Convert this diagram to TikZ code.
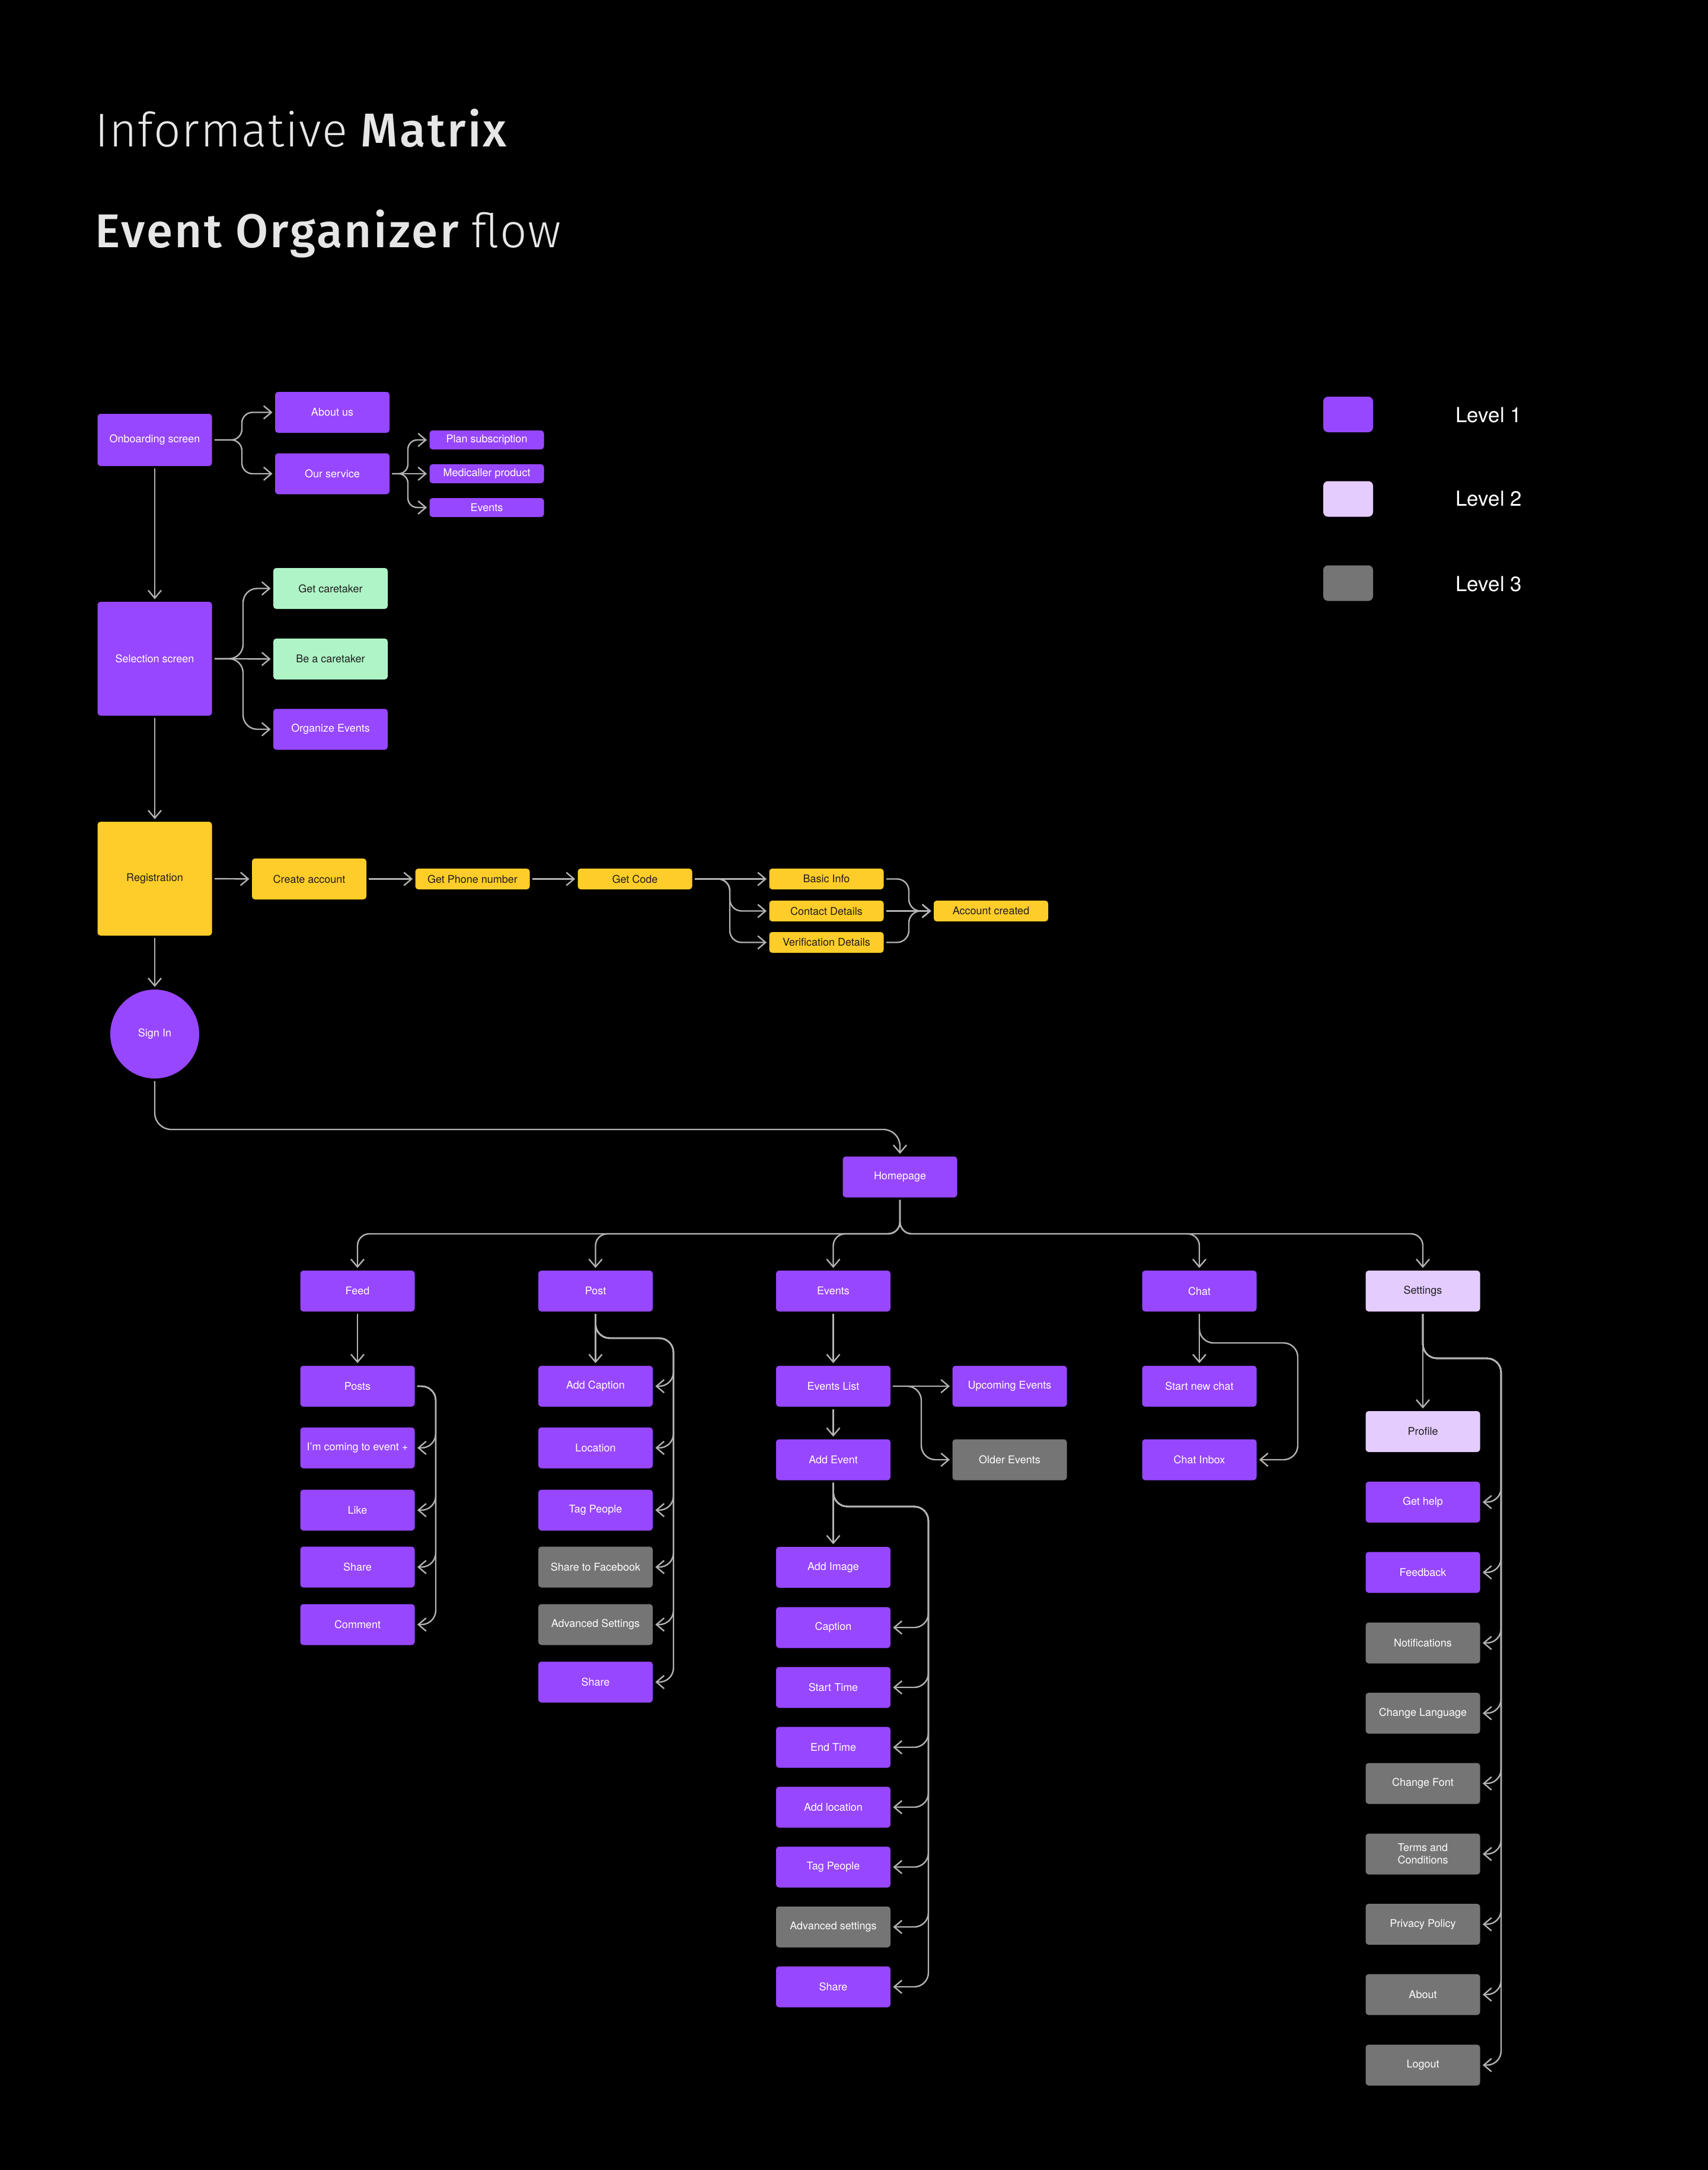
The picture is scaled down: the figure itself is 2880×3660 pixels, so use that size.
\documentclass[tikz,border=0pt]{standalone}
\usepackage{fontspec}
\setmainfont{TeX Gyre Heros}
\IfFontExistsTF{Fira Sans Light}{\newfontfamily\tlight{Fira Sans Light}[LetterSpace=2]}{\newfontfamily\tlight{Fira Sans}[LetterSpace=2]}
\IfFontExistsTF{Fira Sans Medium}{\newfontfamily\tbold{Fira Sans Medium}[LetterSpace=4]}{\newfontfamily\tbold{Fira Sans}[LetterSpace=4,FakeBold=1.2]}
\usetikzlibrary{arrows.meta,calc}
\definecolor{pur}{HTML}{9747FF}
\definecolor{lpur}{HTML}{E4CCFF}
\definecolor{grn}{HTML}{AFF4C6}
\definecolor{ylw}{HTML}{FFCD29}
\definecolor{gry}{HTML}{757575}
\definecolor{lin}{HTML}{B3B3B3}
\definecolor{dark}{HTML}{1E1E1E}
\definecolor{ttl}{HTML}{E6E6E6}
\tikzset{
  box/.style={rectangle, rounded corners=2.5pt, minimum width=96.5pt, minimum height=34.5pt,
    inner sep=0pt, font=\fontsize{9}{10.5}\selectfont, align=center},
  lone/.style={box, fill=pur, text=white},
  ltwo/.style={box, fill=lpur, text=dark},
  lthree/.style={box, fill=gry, text=white},
  gbox/.style={box, fill=grn, text=dark},
  ybox/.style={box, fill=ylw, text=dark},
  slim/.style={minimum height=16pt},
  slimy/.style={minimum height=17.5pt},
  arr/.style={draw=lin, line width=1.2pt, -{Straight Barb[length=6.5pt,width=11pt]},
    shorten <=2pt, shorten >=2pt, rounded corners=12pt},
  legtext/.style={anchor=base west, inner sep=0pt, text=white, font=\fontsize{17.5}{20}\selectfont},
  swatch/.style={rectangle, rounded corners=4pt, minimum width=42pt, minimum height=30pt, inner sep=0pt},
}
\begin{document}
\begin{tikzpicture}[x=0.5pt, y=-0.5pt]
\useasboundingbox (0,0) rectangle (2880,3660);
\fill[black] (-20,-20) rectangle (2900,3680);

% titles
\node[anchor=base west, inner sep=0pt, text=ttl, font=\fontsize{40}{46}\selectfont] (t1) at (160,248)
  {{\tlight Informative} {\tbold Matrix}};
\node[anchor=base west, inner sep=0pt, text=ttl, font=\fontsize{40}{46}\selectfont] (t2) at (160,417)
  {{\tbold Event Organizer} {\tlight flow}};

% legend
\node[swatch, fill=pur] (sw1) at (2274,699) {};
\node[swatch, fill=lpur] (sw2) at (2274,841.5) {};
\node[swatch, fill=gry] (sw3) at (2274,983.5) {};
\node[legtext] (lt1) at (2455,712) {Level 1};
\node[legtext] (lt2) at (2455,853) {Level 2};
\node[legtext] (lt3) at (2455,997) {Level 3};

% onboarding
\node[lone, minimum height=44pt] (onb) at (261,742) {Onboarding screen};
\node[lone] (about) at (560.5,695.5) {About us};
\node[lone] (serv) at (560.5,799) {Our service};
\node[lone, slim] (plan) at (821,742) {Plan subscription};
\node[lone, slim] (medi) at (821,799) {Medicaller product};
\node[lone, slim] (evs) at (821,856) {Events};
\coordinate (ob) at (408,0);
\coordinate (sb) at (688,0);
\draw[arr, rounded corners=9pt] (onb.east) -- (onb.east -| ob) -- (about.west -| ob) -- (about.west);
\draw[arr, rounded corners=9pt] (onb.east) -- (onb.east -| ob) -- (serv.west -| ob) -- (serv.west);
\draw[arr, rounded corners=8pt] (serv.east) -- (serv.east -| sb) -- (plan.west -| sb) -- (plan.west);
\draw[arr] (serv.east) -- (medi.west);
\draw[arr, rounded corners=8pt] (serv.east) -- (serv.east -| sb) -- (evs.west -| sb) -- (evs.west);

% selection
\node[lone, minimum height=96pt] (sel) at (261,1111) {Selection screen};
\node[gbox] (getc) at (557.5,992.5) {Get caretaker};
\node[gbox] (bec) at (557.5,1111.5) {Be a caretaker};
\node[lone] (org) at (557.5,1230) {Organize Events};
\coordinate (selb) at (410,0);
\draw[arr] (onb.south) -- (sel.north);
\draw[arr] (sel.east) -- (sel.east -| selb) -- (getc.west -| selb) -- (getc.west);
\draw[arr] (sel.east) -- (bec.west);
\draw[arr] (sel.east) -- (sel.east -| selb) -- (org.west -| selb) -- (org.west);

% registration
\node[ybox, minimum height=96pt] (reg) at (261,1482) {Registration};
\node[ybox] (create) at (521.5,1482.5) {Create account};
\node[ybox, slimy] (phone) at (797,1482.5) {Get Phone number};
\node[ybox, slimy] (code) at (1071,1482.5) {Get Code};
\node[ybox, slimy] (basic) at (1394,1482.5) {Basic Info};
\node[ybox, slimy] (contact) at (1394,1536.5) {Contact Details};
\node[ybox, slimy] (verif) at (1394,1589.5) {Verification Details};
\node[ybox, slimy] (acc) at (1671.5,1536.5) {Account created};
\coordinate (cb) at (1231,0);
\coordinate (ab) at (1533,0);
\draw[arr] (sel.south) -- (reg.north);
\draw[arr] (reg.east) -- (create.west);
\draw[arr] (create.east) -- (phone.west);
\draw[arr] (phone.east) -- (code.west);
\draw[arr] (code.east) -- (basic.west);
\draw[arr, rounded corners=10pt] (code.east) -- (code.east -| cb) -- (contact.west -| cb) -- (contact.west);
\draw[arr, rounded corners=10pt] (code.east) -- (code.east -| cb) -- (verif.west -| cb) -- (verif.west);
\draw[arr, rounded corners=10pt] (basic.east) -- (basic.east -| ab) -- (acc.west -| ab) -- (acc.west);
\draw[arr] (contact.east) -- (acc.west);
\draw[arr, rounded corners=10pt] (verif.east) -- (verif.east -| ab) -- (acc.west -| ab) -- (acc.west);

% sign in and homepage
\node[circle, fill=pur, text=white, minimum size=75pt, inner sep=0pt, font=\fontsize{9}{10.5}\selectfont] (sign) at (261,1744) {Sign In};
\node[lone] (hp) at (1518,1985) {Homepage};
\coordinate (sbus) at (0,1905);
\draw[arr] (reg.south) -- (sign.north);
\draw[arr, rounded corners=14pt] (sign.south) -- (sign.south |- sbus) -- (sbus -| hp.north) -- (hp.north);

\node[lone] (feed) at (603,2177.5) {Feed};
\node[lone] (post) at (1004.5,2177.5) {Post};
\node[lone] (events) at (1405.5,2177.5) {Events};
\node[lone] (chat) at (2023,2177.5) {Chat};
\node[ltwo] (settings) at (2400,2177.5) {Settings};
\coordinate (hbus) at (0,2081);
\foreach \n in {feed,post,events,chat,settings}
  \draw[arr, rounded corners=10pt] (hp.south) -- (hp.south |- hbus) -- (hbus -| \n.north) -- (\n.north);

% feed column
\node[lone] (posts) at (603,2338) {Posts};
\node[lone] (coming) at (603,2442) {I’m coming to event +};
\node[lone] (like) at (603,2547) {Like};
\node[lone] (fshare) at (603,2643) {Share};
\node[lone] (comment) at (603,2740) {Comment};
\coordinate (fbus) at (735,0);
\draw[arr] (feed.south) -- (posts.north);
\foreach \n in {coming,like,fshare,comment}
  \draw[arr] (posts.east) -- (posts.east -| fbus) -- (\n.east -| fbus) -- (\n.east);

% post column
\node[lone] (caption) at (1004.5,2338) {Add Caption};
\node[lone] (location) at (1004.5,2442) {Location};
\node[lone] (tag) at (1004.5,2547) {Tag People};
\node[lthree] (fb) at (1004.5,2643) {Share to Facebook};
\node[lthree] (adv) at (1004.5,2740) {Advanced Settings};
\node[lone] (pshare) at (1004.5,2837) {Share};
\coordinate (pbus) at (1136,2257);
\draw[arr] (post.south) -- (caption.north);
\foreach \n in {caption,location,tag,fb,adv,pshare}
  \draw[arr] (post.south) -- (post.south |- pbus) -- (pbus) -- (pbus |- \n.east) -- (\n.east);

% events column
\node[lone] (elist) at (1405.5,2338) {Events List};
\node[lone] (addev) at (1405.5,2462) {Add Event};
\node[lone] (upcoming) at (1703,2338) {Upcoming Events};
\node[lthree] (older) at (1703,2462) {Older Events};
\coordinate (obus) at (1554,0);
\draw[arr] (events.south) -- (elist.north);
\draw[arr] (elist.south) -- (addev.north);
\draw[arr] (elist.east) -- (upcoming.west);
\draw[arr] (elist.east) -- (elist.east -| obus) -- (older.west -| obus) -- (older.west);

\node[lone] (addimg) at (1405.5,2643.5) {Add Image};
\node[lone] (ecaption) at (1405.5,2745) {Caption};
\node[lone] (start) at (1405.5,2846) {Start Time};
\node[lone] (endt) at (1405.5,2947) {End Time};
\node[lone] (addloc) at (1405.5,3048) {Add location};
\node[lone] (etag) at (1405.5,3149) {Tag People};
\node[lthree] (eadv) at (1405.5,3250) {Advanced settings};
\node[lone] (eshare) at (1405.5,3351) {Share};
\coordinate (abus) at (1566,2541);
\draw[arr] (addev.south) -- (addimg.north);
\foreach \n in {ecaption,start,endt,addloc,etag,eadv,eshare}
  \draw[arr] (addev.south) -- (addev.south |- abus) -- (abus) -- (abus |- \n.east) -- (\n.east);

% chat column
\node[lone] (newchat) at (2023,2338) {Start new chat};
\node[lone] (inbox) at (2023,2462) {Chat Inbox};
\coordinate (cbus) at (2189,2265);
\draw[arr] (chat.south) -- (newchat.north);
\draw[arr] (chat.south) -- (chat.south |- cbus) -- (cbus) -- (cbus |- inbox.east) -- (inbox.east);

% settings column
\node[ltwo] (profile) at (2400,2414.5) {Profile};
\node[lone] (help) at (2400,2533.5) {Get help};
\node[lone] (feedback) at (2400,2652) {Feedback};
\node[lthree] (notif) at (2400,2771) {Notifications};
\node[lthree] (lang) at (2400,2889.5) {Change Language};
\node[lthree] (cfont) at (2400,3008) {Change Font};
\node[lthree] (terms) at (2400,3127) {Terms and\\Conditions};
\node[lthree] (privacy) at (2400,3245.5) {Privacy Policy};
\node[lthree] (aboutapp) at (2400,3364) {About};
\node[lthree] (logout) at (2400,3483) {Logout};
\coordinate (stbus) at (2532,2291);
\draw[arr] (settings.south) -- (profile.north);
\foreach \n in {help,feedback,notif,lang,cfont,terms,privacy,aboutapp,logout}
  \draw[arr] (settings.south) -- (settings.south |- stbus) -- (stbus) -- (stbus |- \n.east) -- (\n.east);
\end{tikzpicture}
\end{document}
